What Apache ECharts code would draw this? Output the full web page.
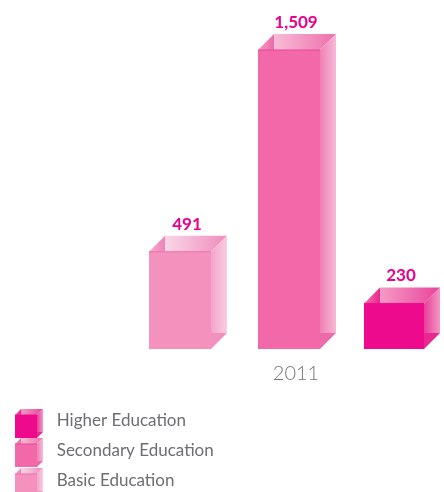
<!DOCTYPE html>
<html>
<head>
<meta charset="utf-8">
<style>
html, body { margin: 0; padding: 0; background: #fff; overflow: hidden; }
#main { width: 444px; height: 492px; }
</style>
<script src="https://cdn.jsdelivr.net/npm/echarts@6/dist/echarts.min.js"></script>
</head>
<body>
<div id="main"></div>
<script>
const categories = ['2011'];
const basicEducation = [491];
const secondaryEducation = [1509];
const higherEducation = [230];
const legendNames = ['Higher Education', 'Secondary Education', 'Basic Education'];

const DEPTH = 16;

function hGrad(from, to) {
    return new echarts.graphic.LinearGradient(0, 0, 1, 0, [
        { offset: 0, color: from },
        { offset: 1, color: to }
    ]);
}

// face colours per box
const faces = {
    basic: { front: '#f491bd', wedge: ['#f7acce', '#ee85b8'], top: ['#f9d6e7', '#ef8dbc'], side: ['#f4a3ca', '#f8cee2'], base: '#f391be', edge: '#ee6fae' },
    secondary: { front: '#f268a8', wedge: ['#f59ac5', '#ec6aa9'], top: ['#f7bcd7', '#ee6fab'], side: ['#f07fb4', '#f6bad6'], base: '#ee6ba9', edge: '#e9479a' },
    higher: { front: '#ee0a8c', wedge: ['#f272ae', '#e9268f'], top: ['#f59ac5', '#e9449a'], side: ['#ea3c9a', '#f298c4'], base: '#e8288f', edge: '#ee0a8c' }
};

// the faces of a box whose front is x,y,w,h
function boxFaces(x, y, w, h, d, f) {
    const poly = (points, fill) => ({ type: 'polygon', shape: { points: points }, style: { fill: fill } });
    return [
        poly([[x, y], [x + d, y - d], [x + d, y]], hGrad(f.wedge[0], f.wedge[1])),
        poly([[x + d, y - d], [x + w + d, y - d], [x + w, y], [x + d, y]], hGrad(f.top[0], f.top[1])),
        poly([[x + w, y], [x + w + d, y - d], [x + w + d, y + h - d], [x + w, y + h - d]], hGrad(f.side[0], f.side[1])),
        poly([[x + w, y + h - d], [x + w + d, y + h - d], [x + w, y + h]], f.base),
        poly([[x, y], [x + w, y], [x + w, y + h], [x, y + h]], f.front),
        { type: 'line', shape: { x1: x, y1: y, x2: x + w, y2: y }, style: { stroke: f.edge, lineWidth: 1 } }
    ];
}

function boxSeries(name, values, f, offset, width) {
    return {
        name: name,
        type: 'custom',
        clip: false,
        itemStyle: { color: f.front },
        encode: { x: 0, y: 1 },
        data: categories.map((c, i) => [i, values[i]]),
        renderItem: function (params, api) {
            const top = api.coord([api.value(0), api.value(1)]);
            const bottom = api.coord([api.value(0), 0]);
            const x = top[0] + offset;
            const children = boxFaces(x, top[1], width, bottom[1] - top[1], DEPTH, f);
            children.push({
                type: 'text',
                style: {
                    x: x + width / 2 + 7,
                    y: top[1] - DEPTH - 3,
                    text: api.value(1).toLocaleString('en-US'),
                    align: 'center',
                    verticalAlign: 'bottom',
                    fill: '#ec008c',
                    font: 'bold 17px Lato'
                }
            });
            return { type: 'group', children: children };
        }
    };
}

// legend swatches are little boxes, the legend's own icon is hidden behind them
function swatch(y, f) {
    return { type: 'group', silent: true, children: boxFaces(15, y, 22, 23, 6, f) };
}

const myChart = echarts.init(document.getElementById('main'));
myChart.setOption({
    animation: false,
    grid: { left: 152, right: 4, top: 50, bottom: 143 },
    xAxis: {
        type: 'category',
        data: categories,
        axisLine: { show: false },
        axisTick: { show: false },
        axisLabel: { color: '#77787b', fontFamily: 'Lato', fontWeight: 300, fontSize: 20, margin: 15 }
    },
    yAxis: { type: 'value', min: 0, max: 1509, show: false },
    legend: {
        left: 16,
        top: 404,
        height: 120,
        orient: 'vertical',
        data: legendNames,
        icon: 'rect',
        itemWidth: 22,
        itemHeight: 23,
        itemGap: 7,
        selectedMode: false,
        itemStyle: { opacity: 0 },
        textStyle: { color: '#6d6e71', fontFamily: 'Lato', fontSize: 17 },
        formatter: '  {name}'
    },
    graphic: [
        swatch(415, faces.higher),
        swatch(444, faces.secondary),
        swatch(474, faces.basic)
    ],
    series: [
        boxSeries('Basic Education', basicEducation, faces.basic, -147, 62),
        boxSeries('Secondary Education', secondaryEducation, faces.secondary, -38, 62),
        boxSeries('Higher Education', higherEducation, faces.higher, 68, 60)
    ]
});
window.addEventListener('resize', myChart.resize);
</script>
</body>
</html>
